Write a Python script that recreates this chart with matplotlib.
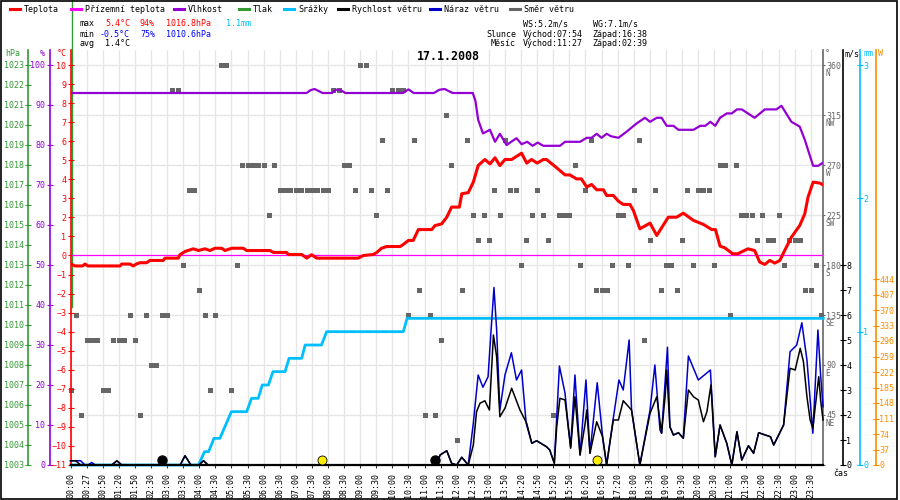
import numpy as np
import matplotlib
matplotlib.use("Agg")
import matplotlib.pyplot as plt
from matplotlib.lines import Line2D
from matplotlib.patches import Rectangle

plt.rcParams['font.family'] = ['DejaVu Sans Mono', 'DejaVu Sans']
plt.rcParams['font.size'] = 6

# --- DATA (x = sample index, one sample ~ 5 min) ---
tick_labels = ["00:00", "00:27", "00:50", "01:20", "01:50", "02:30", "03:00", "03:30",
               "04:00", "04:30", "05:00", "05:30", "06:00", "06:30", "07:00", "07:30",
               "08:00", "08:30", "09:00", "09:30", "10:00", "10:30", "11:00", "11:30",
               "12:00", "12:30", "13:00", "13:50", "14:20", "14:50", "15:20", "15:50",
               "16:20", "16:50", "17:20", "18:00", "18:30", "19:00", "19:30", "20:00",
               "20:30", "21:00", "21:30", "22:00", "22:30", "23:00", "23:30"]
samples_per_tick = 6

temp_idx = [0, 1.7, 4.5, 5.4, 6.5, 18.5, 19.1, 22.2, 23.4, 24.5, 25.9, 28.4, 29.6, 34.6, 35.2,
            40.2, 40.8, 42.7, 45.8, 47.7, 50.1, 52, 53.9, 56.4, 57.6, 60.1, 64.4, 65.7, 74.4,
            75.6, 80.6, 81.2, 86.2, 88.1, 89.9, 91.8, 107.3, 109.2, 112.9, 114.2, 116, 117.9,
            122.9, 124.1, 126, 127.8, 129.7, 134.7, 135.9, 138.4, 140.3, 142.1, 145, 145.9,
            148.3, 150.2, 152, 154.5, 156.4, 158.3, 160.1, 162, 164.5, 168.2, 170.1, 171.9,
            174, 176.3, 177.5, 180.7, 184.4, 186.2, 188.7, 190.5, 192.5, 194.3, 196.2, 198.7,
            199.9, 202.4, 204.3, 206.1, 208.6, 209.9, 212.3, 216.1, 218.6, 222.9, 226, 228.5,
            232.3, 236, 239.1, 240.5, 242.2, 244, 246.9, 248.8, 252.6, 255.1, 257, 258.9,
            260.7, 262.6, 264.5, 266.3, 268.8, 271.9, 273.8, 275, 276.9, 279.4, 280.6]
temp_val = [-0.44, -0.55, -0.55, -0.45, -0.55, -0.55, -0.45, -0.45, -0.55, -0.45, -0.38, -0.38,
            -0.26, -0.26, -0.14, -0.14, 0.04, 0.21, 0.35, 0.26, 0.35, 0.26, 0.38, 0.38, 0.26,
            0.38, 0.38, 0.26, 0.26, 0.16, 0.16, 0.05, 0.05, -0.14, 0.04, -0.14, -0.14, 0.0,
            0.05, 0.16, 0.38, 0.47, 0.47, 0.58, 0.79, 0.79, 1.36, 1.36, 1.57, 1.66, 2.01, 2.54,
            2.54, 3.24, 3.3, 3.85, 4.72, 5.04, 4.81, 5.13, 4.72, 5.04, 5.04, 5.37, 4.85, 5.04,
            4.85, 5.04, 5.04, 4.67, 4.23, 4.23, 4.02, 4.02, 3.59, 3.73, 3.45, 3.45, 3.15, 3.15,
            2.85, 2.68, 2.68, 2.36, 1.4, 1.7, 1.05, 2.01, 2.01, 2.22, 1.84, 1.63, 1.36, 1.36,
            0.49, 0.4, 0.09, 0.09, 0.35, 0.26, -0.35, -0.47, -0.26, -0.4, -0.26, 0.26, 0.96,
            1.57, 2.19, 3.06, 3.85, 3.8, 3.71]

ground_idx = [0, 280.7]
ground_val = [0.0, 0.0]

hum_idx = [0, 88, 89.5, 91, 92.5, 94, 97.5, 99, 100.5, 102.5, 124, 126, 128, 135.5, 137.5,
           139.5, 141, 142.5, 150, 151, 152, 153.8, 156.4, 158.3, 160.1, 162.6, 166.3, 168.2,
           170.3, 172.3, 174.2, 176.3, 182.5, 184.4, 190, 192.5, 194.3, 196.2, 198, 199.9,
           201.5, 204.3, 207.3, 211.1, 214.2, 216.1, 218.6, 220.4, 222.3, 224.8, 226.7, 232.3,
           234.8, 236.7, 238.6, 240.4, 242.2, 244.7, 246.6, 248.5, 250.3, 255.1, 258.9, 263.2,
           265.1, 268.8, 271.9, 273.8, 276.9, 278.8, 280.6]
hum_val = [93, 93, 93.7, 94, 93.5, 93, 93, 93.8, 93.8, 93, 93, 93.9, 93, 93, 93.8, 94, 93.5,
           93, 93, 91, 86.3, 82.9, 83.8, 80.8, 82.8, 80, 81.7, 80.2, 80.8, 79.8, 80.6, 79.8,
           79.8, 80.8, 80.8, 81.8, 81.8, 82.8, 81.8, 82.8, 82.2, 81.8, 83.3, 85.4, 86.8, 85.8,
           86.8, 86.8, 84.8, 84.8, 83.8, 83.8, 84.8, 84.8, 85.8, 84.8, 86.8, 87.9, 87.9, 88.9,
           88.9, 86.8, 88.9, 88.9, 89.8, 85.8, 84.6, 81.3, 74.8, 74.8, 75.6]

pres_idx = [0.5, 0.5]
pres_val = [1026.3, 1010.9]

rain_idx = [0, 47.7, 50, 51.5, 53.5, 55.7, 60, 65.7, 67.5, 70, 71.5, 73.8, 75.5, 80, 81.5,
            86.2, 87.5, 93.6, 95.5, 124.1, 125.5, 280.7]
rain_val = [0, 0, 0.1, 0.1, 0.2, 0.2, 0.4, 0.4, 0.5, 0.5, 0.6, 0.6, 0.7, 0.7, 0.8, 0.8, 0.9,
            0.9, 1.0, 1.0, 1.1, 1.1]

wind_idx = [0, 1.9, 3.8, 15.4, 17.3, 19.1, 40.9, 42.7, 44.9, 47.9, 49.6, 51.3, 136.5, 137.8,
            140.3, 142.1, 144, 145.9, 148.3, 150.2, 151.4, 152.7, 154.5, 156.2, 157.7, 158.9,
            160.1, 162, 164.5, 167.6, 170.1, 172, 173.8, 177.5, 178.7, 180.4, 181.3, 182.5,
            184.4, 185.6, 186.5, 188.1, 190, 191.9, 192.5, 193.7, 196.2, 198.4, 199.9, 202.4,
            204.3, 206.1, 209.2, 212.3, 216.1, 218.6, 220.4, 221.7, 222.3, 223.5, 224.8, 226.7,
            228.5, 230.4, 232.3, 234.1, 236, 237.3, 238.8, 240.4, 242.2, 244.7, 246.6, 248.5,
            250.3, 252.8, 254.7, 256.6, 261, 262.2, 265.9, 268.3, 270.2, 272.1, 273.3, 274.6,
            275.8, 276.8, 277.7, 279, 279.7, 280.6]
wind_val = [0.17, 0.17, 0, 0, 0.17, 0, 0, 0.37, 0, 0, 0.17, 0, 0, 0.4, 0.57, 0.07, 0, 0.31, 0,
            0.8, 2.13, 2.47, 2.57, 2.2, 5.2, 4.33, 1.93, 2.27, 3.07, 2.2, 1.67, 0.87, 0.97, 0.73,
            0.6, 0.07, 1.53, 2.67, 2.6, 1.53, 0.67, 2.73, 0.4, 1.67, 2.2, 0.47, 1.73, 1.13, 0,
            1.8, 1.8, 2.57, 2.2, 0, 2.07, 2.73, 1.27, 2.73, 3.8, 1.53, 1.2, 1.29, 1.07, 3.0,
            2.73, 2.6, 1.73, 2.13, 3.2, 0.33, 1.6, 0.87, 0, 1.33, 0.2, 0.77, 0.47, 1.29, 1.13,
            0.8, 1.6, 3.87, 3.8, 4.67, 4.13, 2.73, 1.8, 1.47, 2.33, 3.53, 2.6, 1.8]

gust_idx = [0, 3.8, 5.4, 6.5, 7.9, 9.2, 15.4, 17.3, 19.1, 40.9, 42.7, 44.9, 47.9, 49.6, 51.3,
            136.5, 137.8, 140.3, 142.1, 144, 145.9, 148.3, 150.2, 152, 153.8, 155.7, 157,
            157.9, 158.9, 160.1, 162, 164.4, 166.3, 168.2, 169.9, 172, 173.8, 177.5, 178.7,
            180.4, 182.3, 184.4, 185.6, 186.5, 188.1, 190, 192.2, 193.7, 196.4, 198.4, 199.9,
            202.4, 204.5, 206.1, 208.3, 209.2, 212.3, 216.1, 217.9, 219.8, 220.4, 222.6, 223.5,
            224.8, 226.7, 228.5, 230.4, 234.1, 238.6, 240.4, 242.2, 244.7, 246.6, 248.5, 250.3,
            252.8, 254.7, 256.6, 261, 262.2, 265.9, 268.3, 270.8, 272.7, 274.6, 276.8, 278.7,
            279.7, 280.6]
gust_val = [0.17, 0.17, 0, 0, 0.1, 0, 0, 0.17, 0, 0, 0.37, 0, 0, 0.17, 0, 0, 0.4, 0.57, 0.07,
            0, 0.31, 0, 1.67, 3.6, 3.11, 3.53, 5.67, 7.1, 5.4, 2.2, 3.6, 4.49, 3.4, 3.8, 1.67,
            0.87, 0.97, 0.73, 0.6, 0.07, 3.96, 2.87, 1.53, 0.73, 3.6, 0.4, 3.4, 0.47, 3.29,
            1.13, 0, 1.87, 3.4, 3.0, 5.0, 2.2, 0, 2.2, 4.0, 1.4, 1.27, 4.71, 1.53, 1.2, 1.29,
            1.07, 4.36, 3.4, 3.8, 0.33, 1.6, 0.87, 0, 1.33, 0.2, 0.77, 0.47, 1.29, 1.13, 0.8,
            1.6, 4.53, 4.8, 5.69, 4.2, 1.27, 5.4, 3.6, 2.33]

# wind direction, every second sample (0, 2, 4, ... 280)
dir_step = 2
dir_val = [67.5, 135, 45, 112.5, 112.5, 112.5, 67.5, 67.5, 112.5, 112.5, 112.5, 135, 112.5, 45,
           135, 90, 90, 135, 135, 337.5, 337.5, 180, 247.5, 247.5, 157.5, 135, 67.5, 135, 360,
           360, 67.5, 180, 270, 270, 270, 270, 270, 225, 270, 247.5, 247.5, 247.5, 247.5,
           247.5, 247.5, 247.5, 247.5, 247.5, 247.5, 337.5, 337.5, 270, 270, 247.5, 360, 360,
           247.5, 225, 292.5, 247.5, 337.5, 337.5, 337.5, 135, 292.5, 157.5, 45, 135, 45, 112.5,
           315, 270, 22.5, 157.5, 292.5, 225, 202.5, 225, 202.5, 247.5, 225, 292.5, 247.5,
           247.5, 180, 202.5, 225, 247.5, 225, 202.5, 45, 225, 225, 225, 270, 180, 247.5, 292.5,
           157.5, 157.5, 157.5, 180, 225, 225, 180, 247.5, 292.5, 112.5, 202.5, 247.5, 157.5,
           180, 180, 157.5, 202.5, 247.5, 180, 247.5, 247.5, 247.5, 180, 270, 270, 135, 270,
           225, 225, 225, 202.5, 225, 202.5, 202.5, 225, 180, 202.5, 202.5, 202.5, 157.5, 157.5,
           180, 135]

sun_idx = [93.7, 196.3]      # sunrise 07:54, sunset 16:38
sun_level = [0.2, 0.2]
moon_idx = [34.1, 135.9]     # moonset 02:39, moonrise 11:27
moon_level = [0.2, 0.2]

dir_ticks = [0, 45, 90, 135, 180, 225, 270, 315, 360]
dir_names = ["NE", "E", "SE", "S", "SW", "W", "NW", "N"]
temp_ticks = list(range(-11, 11))
hum_ticks = list(range(0, 101, 10))
pres_ticks = list(range(1003, 1024))
wind_ticks = list(range(0, 9))
rain_ticks = [0, 1, 2, 3]
solar_ticks = list(range(0, 445, 37))

# --- COLOURS ---
C_TEMP, C_GROUND, C_HUM, C_PRES = '#ff0000', '#ff00ff', '#9400d3', '#339933'
C_RAIN, C_WIND, C_GUST, C_DIR = '#00bfff', '#000000', '#0000cc', '#666666'
C_SOLAR, C_GRID, C_MIN = '#ff8c00', '#e6e6e6', '#0000ff'

# --- LAYOUT (pixels of a 900x500 canvas) ---
PX_W, PX_H = 900, 500
X_LEFT, X_RIGHT, Y_TOP, Y_BOT = 70.5, 823.3, 50, 465
X_MAX = 280.7
rect = [X_LEFT / PX_W, 1 - Y_BOT / PX_H, (X_RIGHT - X_LEFT) / PX_W, (Y_BOT - Y_TOP) / PX_H]


def fx(px):
    return px / PX_W


def fy(py):
    return 1 - py / PX_H


def spine_pos(px):
    return (px - X_LEFT) / (X_RIGHT - X_LEFT)


def ylim_for(lo, hi):
    # the value range covers 400 px, the plot is 415 px tall
    return lo, lo + (hi - lo) * (Y_BOT - Y_TOP) / 400.0


fig = plt.figure(figsize=(9, 5), dpi=100)

# base axes: grid, x labels, wind direction
ax_dir = fig.add_axes(rect)
ax_dir.set_xlim(0, X_MAX)
tick_idx = np.arange(len(tick_labels)) * samples_per_tick
ax_dir.set_xticks(tick_idx)
ax_dir.set_xticklabels(tick_labels, rotation=90, fontsize=6, va='top')
ax_dir.tick_params(axis='x', length=2, pad=4, color='#333333', width=0.8)
ax_dir.yaxis.tick_right()
ax_dir.set_yticks(dir_ticks)
ax_dir.set_yticklabels([''] + [str(d) for d in dir_ticks[1:]])
ax_dir.set_ylim(*ylim_for(0, 360))
ax_dir.tick_params(axis='y', direction='out', length=1.5, pad=0.5, colors=C_DIR, labelsize=6)
ax_dir.grid(True, color=C_GRID, lw=1)
ax_dir.set_axisbelow(True)
for s in ['left', 'top', 'bottom']:
    ax_dir.spines[s].set_visible(False)
ax_dir.spines['right'].set_color(C_DIR)
ax_dir.spines['right'].set_linewidth(1.2)
ax_dir.plot(np.arange(len(dir_val)) * dir_step, dir_val, 's', color=C_DIR, ms=3.6, mew=0,
            clip_on=False, zorder=3)
for d, name in zip(dir_ticks[1:], dir_names):
    ax_dir.annotate(name, xy=(1, d), xycoords=('axes fraction', 'data'), xytext=(1.6, -3.2),
                    textcoords='offset points', ha='left', va='top', color=C_DIR, fontsize=5.6)


def overlay(lo, hi):
    a = fig.add_axes(rect, sharex=ax_dir)
    a.patch.set_visible(False)
    for s in a.spines.values():
        s.set_visible(False)
    a.tick_params(axis='x', which='both', bottom=False, labelbottom=False)
    a.ylim_pair = ylim_for(lo, hi)
    return a


def side_axis(a, side, px, color, ticks, pad=1.0):
    a.spines[side].set_visible(True)
    a.spines[side].set_position(('axes', spine_pos(px)))
    a.spines[side].set_color(color)
    a.spines[side].set_linewidth(1.2)
    a.yaxis.set_ticks_position(side)
    a.set_yticks(ticks)
    a.set_ylim(*a.ylim_pair)
    a.tick_params(axis='y', direction='inout', length=4, width=0.8, pad=pad, colors=color,
                  labelsize=6)


ax_rain = overlay(0, 3)
side_axis(ax_rain, 'right', 860, C_RAIN, rain_ticks, pad=0.5)
ax_solar = overlay(0, 444 * 400 / 186)
side_axis(ax_solar, 'right', 876, C_SOLAR, solar_ticks, pad=0.5)
ax_pres = overlay(1003, 1023)
side_axis(ax_pres, 'left', 28, C_PRES, pres_ticks, pad=0.8)
ax_hum = overlay(0, 100)
side_axis(ax_hum, 'left', 50, C_HUM, hum_ticks, pad=1.5)
ax_temp = overlay(-11, 10)
side_axis(ax_temp, 'left', X_LEFT, C_TEMP, temp_ticks, pad=1.0)
ax_wind = overlay(0, 16)
side_axis(ax_wind, 'right', 843, C_WIND, wind_ticks, pad=0.5)

ax_rain.plot(rain_idx, rain_val, color=C_RAIN, lw=2.0, clip_on=False)
ax_pres.plot(pres_idx, pres_val, color=C_PRES, lw=1.0, clip_on=False)
ax_temp.plot(ground_idx, ground_val, color=C_GROUND, lw=0.9)
ax_hum.plot(hum_idx, hum_val, color=C_HUM, lw=1.6)
ax_temp.plot(temp_idx, temp_val, color=C_TEMP, lw=2.2)
ax_wind.plot(gust_idx, gust_val, color=C_GUST, lw=1.1, clip_on=False)
ax_wind.plot(wind_idx, wind_val, color=C_WIND, lw=1.1, clip_on=False)
ax_wind.plot([0, X_MAX], [0, 0], color=C_WIND, lw=1.6, clip_on=False)
ax_wind.plot(sun_idx, sun_level, 'o', mfc='#ffee00', mec='black', ms=6.5, mew=0.6,
             clip_on=False, zorder=5)
ax_wind.plot(moon_idx, moon_level, 'o', color='black', ms=6.5, clip_on=False, zorder=5)

# --- UNIT LABELS ---
units = [("hPa", 13, C_PRES), ("%", 42, C_HUM), ("°C", 62, C_TEMP), ("°", 827, C_DIR),
         ("m/s", 852, C_WIND), ("mm", 868, C_RAIN), ("W", 880, C_SOLAR)]
for txt, px, col in units:
    fig.text(fx(px), fy(54), txt, color=col, ha='center', va='center', fontsize=6)
fig.text(fx(833), fy(474), "čas", ha='left', va='center', fontsize=6)

# --- LEGEND ROW ---
legend_items = [("Teplota", C_TEMP, 10), ("Přízemní teplota", C_GROUND, 71),
                ("Vlhkost", C_HUM, 174), ("Tlak", C_PRES, 239), ("Srážky", C_RAIN, 284),
                ("Rychlost větru", C_WIND, 338), ("Náraz větru", C_GUST, 430),
                ("Směr větru", C_DIR, 510)]
for txt, col, px in legend_items:
    fig.add_artist(Line2D([fx(px), fx(px + 10)], [fy(9), fy(9)], color=col, lw=2.2))
    fig.text(fx(px + 14), fy(9), txt, ha='left', va='center', fontsize=6)

# --- INFO BLOCK ---
info = [("max", 80, 24, 'black'), ("5.4°C", 105, 24, C_TEMP), ("94%", 140, 24, C_TEMP),
        ("1016.8hPa", 166, 24, C_TEMP), ("1.1mm", 226, 24, C_RAIN),
        ("min", 80, 34, 'black'), ("-0.5°C", 100, 34, C_MIN), ("75%", 140, 34, C_MIN),
        ("1010.6hPa", 166, 34, C_MIN),
        ("avg", 80, 44, 'black'), ("1.4°C", 105, 44, 'black'),
        ("WS:5.2m/s", 522.7, 24, 'black'), ("WG:7.1m/s", 592.7, 24, 'black'),
        ("Slunce", 486.7, 34, 'black'), ("Východ:07:54", 522.7, 34, 'black'),
        ("Západ:16:38", 592.7, 34, 'black'),
        ("Měsíc", 491, 44, 'black'), ("Východ:11:27", 522.7, 44, 'black'),
        ("Západ:02:39", 592.7, 44, 'black')]
for txt, px, py, col in info:
    fig.text(fx(px), fy(py), txt, color=col, ha='left', va='center', fontsize=6)

fig.text(fx(448.5), fy(57), "17.1.2008", ha='center', va='center', fontsize=8.4,
         fontweight='bold')

fig.add_artist(Rectangle((fx(0.6), fy(498.5)), fx(896.5), 497.5 / PX_H, transform=fig.transFigure,
                         fill=False, ec='black', lw=1.2))

fig.savefig("out.png", dpi=100)
